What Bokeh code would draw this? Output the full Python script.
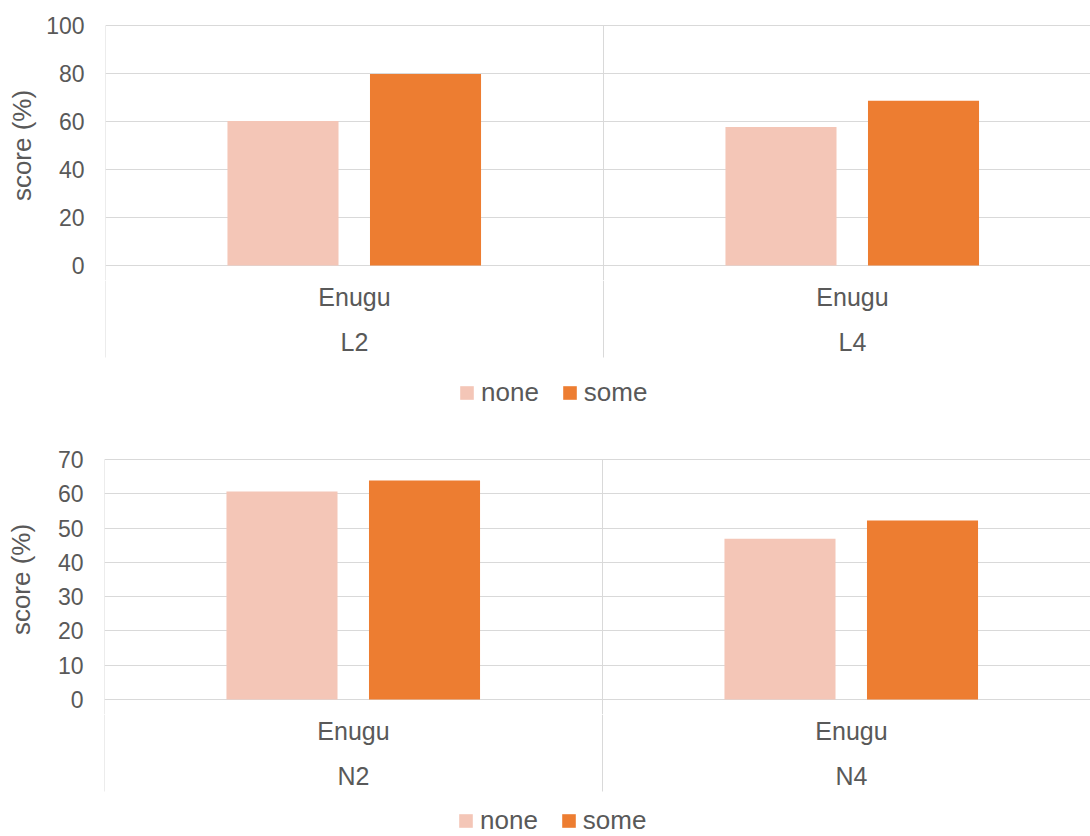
from bokeh.plotting import figure
from bokeh.models import (Range1d, FixedTicker, Legend, LegendItem,
                          ColumnDataSource)
from bokeh.core.properties import value
from bokeh.transform import dodge
from bokeh.layouts import column
from bokeh.embed import file_html
from bokeh.resources import INLINE

# ---- data -------------------------------------------------------------
site = "Enugu"
series = ["none", "some"]
y_title = "score (%)"

literacy_groups = ["L2", "L4"]
literacy_none = [60.2, 57.7]
literacy_some = [79.8, 68.6]

numeracy_groups = ["N2", "N4"]
numeracy_none = [60.7, 46.9]
numeracy_some = [63.9, 52.2]

# ---- style ------------------------------------------------------------
FONT = "Liberation Sans"
TEXT = "#595959"
GRID = "#D9D9D9"
COLORS = {"none": "#F4C6B7", "some": "#ED7D31"}

WIDTH = 1090
PLOT_PX = 240      # height of the value area in pixels
PAD_PX = 15        # breathing room above/below the value area
BAND_PX = 92       # depth of the category band below zero
GROUP_PX = 498     # width of one category group in pixels
BAR_W = 0.223
OFFSETS = {"none": -0.1436, "some": 0.1426}


def add_bars(fig, src, x_range):
    renderers = []
    for name in series:
        renderers.append(fig.vbar(
            x=dodge("pos", OFFSETS[name], range=x_range), top="v_" + name,
            width=BAR_W, source=src, fill_color=COLORS[name],
            line_color=None))
    return renderers


def make_chart(groups, none_vals, some_vals, y_max, y_step, left, top,
               height, legend_y, title_standoff):
    n = len(groups)
    pos = [i + 0.5 for i in range(n)]
    bounds = list(range(n + 1))
    unit = y_max / PLOT_PX          # data units per pixel
    frame_w = WIDTH - left
    x_range = Range1d(0, frame_w / GROUP_PX)

    bars = ColumnDataSource(dict(pos=pos, v_none=none_vals, v_some=some_vals))
    seps = ColumnDataSource(dict(b=bounds))

    # ---- value panel --------------------------------------------------
    p = figure(frame_width=frame_w, frame_height=PLOT_PX + 2 * PAD_PX,
               min_border_left=left, min_border_right=0,
               min_border_top=top - PAD_PX, min_border_bottom=0,
               x_range=x_range,
               y_range=Range1d(-PAD_PX * unit, y_max + PAD_PX * unit),
               x_axis_type=None,
               output_backend="svg", toolbar_location=None)
    p.outline_line_color = None
    p.border_fill_color = "white"

    p.segment(x0="b", y0=y_max, x1="b", y1=-PAD_PX * unit, source=seps,
              line_color=GRID, line_width=1)
    add_bars(p, bars, x_range)

    yax = p.yaxis[0]
    yax.ticker = FixedTicker(ticks=list(range(0, y_max + 1, y_step)))
    yax.axis_line_color = None
    yax.major_tick_line_color = None
    yax.minor_tick_line_color = None
    yax.major_tick_out = 0
    yax.major_label_standoff = 21
    yax.major_label_text_font = FONT
    yax.major_label_text_font_size = "23px"
    yax.major_label_text_color = TEXT
    yax.axis_label = y_title
    yax.axis_label_text_font = FONT
    yax.axis_label_text_font_size = "26px"
    yax.axis_label_text_font_style = "normal"
    yax.axis_label_text_color = TEXT
    yax.axis_label_standoff = title_standoff
    p.ygrid.grid_line_color = GRID
    p.ygrid.grid_line_width = 1
    p.ygrid.ticker = yax.ticker

    # ---- category band + legend (y in pixels below zero) --------------
    band_h = height - top - PLOT_PX - PAD_PX
    labels = ColumnDataSource(dict(
        pos=pos, site=[site] * n, group=groups,
        site_y=[-31] * n, group_y=[-76] * n))
    q = figure(frame_width=frame_w, frame_height=band_h,
               min_border_left=left, min_border_right=0,
               min_border_top=0, min_border_bottom=0,
               x_range=x_range, y_range=Range1d(-PAD_PX - band_h, -PAD_PX),
               x_axis_type=None, y_axis_type=None,
               output_backend="svg", toolbar_location=None)
    q.outline_line_color = None
    q.grid.visible = False
    q.border_fill_color = "white"

    q.segment(x0="b", y0=-PAD_PX, x1="b", y1=-BAND_PX, source=seps,
              line_color=GRID, line_width=1)
    q.text(x="pos", y="site_y", text="site", source=labels,
           text_font=value(FONT), text_font_size="25px", text_color=TEXT,
           text_align="center", text_baseline="middle")
    q.text(x="pos", y="group_y", text="group", source=labels,
           text_font=value(FONT), text_font_size="25px", text_color=TEXT,
           text_align="center", text_baseline="middle")

    # hidden copies of the bar series supply the legend swatches here
    key_none, key_some = add_bars(q, bars, x_range)
    key_none.visible = False
    key_some.visible = False
    legend = Legend(items=[LegendItem(label=value(series[0]), renderers=[key_none]),
                           LegendItem(label=value(series[1]), renderers=[key_some])],
                    orientation="horizontal", location=(353, legend_y),
                    glyph_width=17, glyph_height=17, label_standoff=6,
                    spacing=22, padding=0, margin=0,
                    border_line_color=None, background_fill_alpha=0,
                    label_text_font=FONT, label_text_font_size="26px",
                    label_text_color=TEXT)
    q.add_layout(legend, "center")
    return column(p, q, spacing=0)


top_chart = make_chart(literacy_groups, literacy_none, literacy_some,
                       100, 20, left=105, top=25, height=420, legend_y=12,
                       title_standoff=6)
bottom_chart = make_chart(numeracy_groups, numeracy_none, numeracy_some,
                          70, 10, left=104, top=39, height=416, legend_y=0,
                          title_standoff=19)

layout = column(top_chart, bottom_chart, spacing=0)
open("out.html", "w").write(file_html(layout, INLINE))
